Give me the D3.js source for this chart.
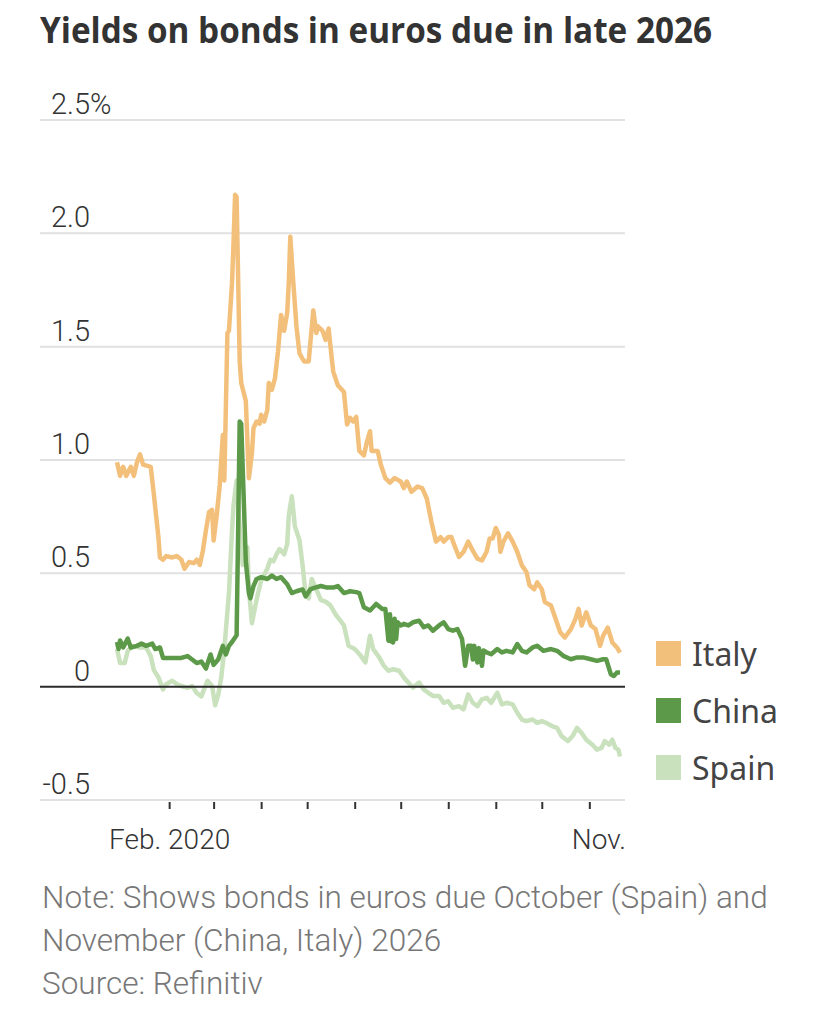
<!DOCTYPE html>
<html>
<head>
<meta charset="utf-8">
<script src="https://cdn.jsdelivr.net/npm/d3@7"></script>
<style>
  html, body { margin: 0; padding: 0; background: #ffffff; }
  svg { display: block; }
</style>
</head>
<body>
<svg id="chart" width="828" height="1020"></svg>
<script>
// ---------- DATA ----------
const title = "Yields on bonds in euros due in late 2026";
const noteLines = [
  "Note: Shows bonds in euros due October (Spain) and",
  "November (China, Italy) 2026",
  "Source: Refinitiv"
];
const seriesNames = ["Italy", "China", "Spain"];
const yTicks = [-0.5, 0, 0.5, 1.0, 1.5, 2.0, 2.5];
const yTickLabels = ["-0.5", "0", "0.5", "1.0", "1.5", "2.0", "2.5"];
const xTickMonths = ["2020-02-01","2020-03-01","2020-04-01","2020-05-01","2020-06-01","2020-07-01","2020-08-01","2020-09-01","2020-10-01","2020-11-01"];
const xTickLabels = ["Feb. 2020","","","","","","","","","Nov."];

const italy = [["2019-12-29",0.99],["2019-12-31",0.93],["2020-01-02",0.97],["2020-01-04",0.93],["2020-01-07",0.97],["2020-01-09",0.93],["2020-01-11",0.99],["2020-01-13",1.025],["2020-01-15",0.98],["2020-01-20",0.97],["2020-01-22",0.85],["2020-01-25",0.66],["2020-01-26",0.57],["2020-01-28",0.56],["2020-01-30",0.576],["2020-02-03",0.57],["2020-02-06",0.576],["2020-02-09",0.56],["2020-02-11",0.52],["2020-02-14",0.55],["2020-02-17",0.545],["2020-02-19",0.56],["2020-02-21",0.537],["2020-02-23",0.60],["2020-02-25",0.69],["2020-02-27",0.77],["2020-02-29",0.78],["2020-03-01",0.645],["2020-03-03",0.754],["2020-03-05",0.89],["2020-03-07",1.11],["2020-03-08",0.91],["2020-03-10",1.56],["2020-03-11",1.57],["2020-03-13",1.78],["2020-03-14",1.96],["2020-03-15",2.17],["2020-03-16",2.16],["2020-03-18",1.435],["2020-03-19",1.34],["2020-03-22",1.26],["2020-03-24",0.92],["2020-03-26",1.03],["2020-03-27",1.14],["2020-03-29",1.17],["2020-03-31",1.16],["2020-04-01",1.20],["2020-04-03",1.17],["2020-04-05",1.22],["2020-04-06",1.34],["2020-04-08",1.31],["2020-04-10",1.36],["2020-04-12",1.48],["2020-04-14",1.64],["2020-04-16",1.57],["2020-04-18",1.65],["2020-04-19",1.78],["2020-04-20",1.985],["2020-04-22",1.78],["2020-04-24",1.59],["2020-04-26",1.47],["2020-04-29",1.435],["2020-05-02",1.435],["2020-05-03",1.51],["2020-05-05",1.66],["2020-05-07",1.56],["2020-05-08",1.59],["2020-05-11",1.57],["2020-05-13",1.53],["2020-05-15",1.58],["2020-05-17",1.45],["2020-05-18",1.39],["2020-05-21",1.33],["2020-05-25",1.30],["2020-05-27",1.157],["2020-05-29",1.186],["2020-05-31",1.17],["2020-06-02",1.19],["2020-06-04",1.04],["2020-06-07",1.02],["2020-06-09",1.08],["2020-06-11",1.127],["2020-06-12",1.04],["2020-06-16",1.04],["2020-06-18",0.98],["2020-06-21",0.92],["2020-06-24",0.90],["2020-06-27",0.92],["2020-07-01",0.905],["2020-07-03",0.876],["2020-07-05",0.905],["2020-07-08",0.86],["2020-07-12",0.883],["2020-07-15",0.876],["2020-07-18",0.83],["2020-07-21",0.728],["2020-07-24",0.64],["2020-07-27",0.66],["2020-07-29",0.64],["2020-08-01",0.66],["2020-08-03",0.66],["2020-08-05",0.624],["2020-08-08",0.572],["2020-08-11",0.595],["2020-08-14",0.64],["2020-08-17",0.60],["2020-08-20",0.565],["2020-08-23",0.557],["2020-08-26",0.595],["2020-08-28",0.654],["2020-08-30",0.654],["2020-09-01",0.70],["2020-09-03",0.67],["2020-09-04",0.595],["2020-09-06",0.64],["2020-09-09",0.676],["2020-09-12",0.64],["2020-09-15",0.595],["2020-09-18",0.535],["2020-09-21",0.506],["2020-09-23",0.447],["2020-09-26",0.43],["2020-09-28",0.46],["2020-10-01",0.43],["2020-10-03",0.373],["2020-10-07",0.358],["2020-10-10",0.30],["2020-10-13",0.24],["2020-10-16",0.217],["2020-10-20",0.254],["2020-10-23",0.30],["2020-10-25",0.343],["2020-10-27",0.27],["2020-10-30",0.328],["2020-11-02",0.27],["2020-11-05",0.254],["2020-11-08",0.18],["2020-11-10",0.225],["2020-11-13",0.26],["2020-11-16",0.195],["2020-11-19",0.173],["2020-11-21",0.15]];

const china = [["2019-12-29",0.197],["2019-12-30",0.166],["2019-12-31",0.204],["2020-01-02",0.173],["2020-01-05",0.212],["2020-01-07",0.173],["2020-01-11",0.18],["2020-01-14",0.19],["2020-01-17",0.18],["2020-01-21",0.19],["2020-01-23",0.166],["2020-01-26",0.173],["2020-01-28",0.127],["2020-02-02",0.127],["2020-02-06",0.127],["2020-02-09",0.127],["2020-02-13",0.135],["2020-02-16",0.12],["2020-02-19",0.104],["2020-02-22",0.111],["2020-02-25",0.08],["2020-02-28",0.142],["2020-03-01",0.096],["2020-03-04",0.12],["2020-03-07",0.18],["2020-03-09",0.142],["2020-03-11",0.18],["2020-03-13",0.197],["2020-03-16",0.227],["2020-03-17",0.69],["2020-03-18",1.17],["2020-03-19",1.16],["2020-03-22",0.553],["2020-03-24",0.413],["2020-03-25",0.39],["2020-03-27",0.444],["2020-03-29",0.475],["2020-04-01",0.483],["2020-04-05",0.475],["2020-04-08",0.49],["2020-04-11",0.475],["2020-04-14",0.483],["2020-04-18",0.452],["2020-04-21",0.413],["2020-04-24",0.421],["2020-04-28",0.429],["2020-04-30",0.398],["2020-05-03",0.429],["2020-05-06",0.437],["2020-05-10",0.444],["2020-05-14",0.437],["2020-05-18",0.437],["2020-05-21",0.444],["2020-05-25",0.413],["2020-05-29",0.421],["2020-06-02",0.417],["2020-06-04",0.413],["2020-06-07",0.35],["2020-06-11",0.336],["2020-06-15",0.365],["2020-06-19",0.343],["2020-06-21",0.343],["2020-06-23",0.203],["2020-06-24",0.32],["2020-06-25",0.20],["2020-06-26",0.195],["2020-06-27",0.30],["2020-06-28",0.21],["2020-06-29",0.284],["2020-07-01",0.27],["2020-07-03",0.277],["2020-07-06",0.27],["2020-07-09",0.284],["2020-07-13",0.291],["2020-07-16",0.262],["2020-07-19",0.27],["2020-07-22",0.247],["2020-07-26",0.27],["2020-07-29",0.284],["2020-08-01",0.254],["2020-08-04",0.247],["2020-08-07",0.254],["2020-08-10",0.21],["2020-08-12",0.092],["2020-08-14",0.18],["2020-08-16",0.18],["2020-08-17",0.12],["2020-08-18",0.18],["2020-08-20",0.107],["2020-08-21",0.17],["2020-08-23",0.092],["2020-08-24",0.16],["2020-08-26",0.151],["2020-08-29",0.143],["2020-09-02",0.166],["2020-09-05",0.151],["2020-09-08",0.158],["2020-09-12",0.151],["2020-09-15",0.188],["2020-09-18",0.158],["2020-09-21",0.151],["2020-09-25",0.173],["2020-09-28",0.18],["2020-10-02",0.158],["2020-10-07",0.166],["2020-10-11",0.158],["2020-10-15",0.136],["2020-10-20",0.121],["2020-10-24",0.129],["2020-10-28",0.129],["2020-11-02",0.121],["2020-11-06",0.114],["2020-11-10",0.121],["2020-11-12",0.121],["2020-11-15",0.055],["2020-11-17",0.047],["2020-11-19",0.062],["2020-11-21",0.062]];

const spain = [["2019-12-29",0.166],["2019-12-31",0.104],["2020-01-03",0.104],["2020-01-05",0.158],["2020-01-08",0.18],["2020-01-13",0.173],["2020-01-17",0.173],["2020-01-20",0.135],["2020-01-22",0.073],["2020-01-25",0.042],["2020-01-28",-0.012],["2020-01-30",0.011],["2020-02-03",0.026],["2020-02-06",0.011],["2020-02-09",0.003],["2020-02-13",-0.005],["2020-02-16",0.003],["2020-02-19",-0.028],["2020-02-22",-0.043],["2020-02-26",0.026],["2020-02-29",0.003],["2020-03-02",-0.082],["2020-03-04",-0.036],["2020-03-06",0.042],["2020-03-08",0.166],["2020-03-11",0.413],["2020-03-13",0.69],["2020-03-14",0.80],["2020-03-16",0.91],["2020-03-18",0.707],["2020-03-20",0.537],["2020-03-23",0.615],["2020-03-24",0.43],["2020-03-26",0.28],["2020-03-28",0.35],["2020-03-30",0.413],["2020-04-01",0.467],["2020-04-05",0.52],["2020-04-07",0.56],["2020-04-09",0.553],["2020-04-11",0.584],["2020-04-13",0.607],["2020-04-16",0.584],["2020-04-18",0.63],["2020-04-19",0.754],["2020-04-21",0.84],["2020-04-23",0.707],["2020-04-26",0.646],["2020-04-28",0.537],["2020-04-30",0.405],["2020-05-02",0.39],["2020-05-04",0.475],["2020-05-06",0.444],["2020-05-10",0.382],["2020-05-13",0.375],["2020-05-16",0.36],["2020-05-20",0.314],["2020-05-25",0.27],["2020-05-28",0.18],["2020-06-01",0.166],["2020-06-05",0.136],["2020-06-08",0.107],["2020-06-11",0.225],["2020-06-13",0.166],["2020-06-17",0.129],["2020-06-20",0.092],["2020-06-23",0.07],["2020-06-26",0.077],["2020-06-30",0.07],["2020-07-03",0.04],["2020-07-06",0.018],["2020-07-09",-0.004],["2020-07-13",0.018],["2020-07-16",-0.012],["2020-07-19",-0.027],["2020-07-22",-0.041],["2020-07-26",-0.041],["2020-07-29",-0.071],["2020-08-01",-0.064],["2020-08-04",-0.093],["2020-08-08",-0.086],["2020-08-11",-0.1],["2020-08-14",-0.034],["2020-08-17",-0.071],["2020-08-20",-0.086],["2020-08-23",-0.056],["2020-08-26",-0.049],["2020-08-29",-0.071],["2020-09-02",-0.027],["2020-09-05",-0.078],["2020-09-08",-0.071],["2020-09-12",-0.078],["2020-09-15",-0.115],["2020-09-18",-0.145],["2020-09-21",-0.152],["2020-09-25",-0.145],["2020-09-28",-0.16],["2020-10-01",-0.152],["2020-10-04",-0.16],["2020-10-08",-0.175],["2020-10-11",-0.182],["2020-10-14",-0.219],["2020-10-18",-0.24],["2020-10-21",-0.219],["2020-10-24",-0.182],["2020-10-27",-0.204],["2020-10-30",-0.234],["2020-11-03",-0.256],["2020-11-06",-0.278],["2020-11-09",-0.27],["2020-11-11",-0.24],["2020-11-14",-0.256],["2020-11-16",-0.234],["2020-11-18",-0.27],["2020-11-20",-0.278],["2020-11-21",-0.308]];

// ---------- STYLE ----------
const colors = { Italy: "#f3c07b", China: "#5c9a49", Spain: "#c9e1bd" };
const axisFont = "'Roboto', sans-serif";

// ---------- DRAW ----------
const parse = d3.timeParse("%Y-%m-%d");
const svg = d3.select("#chart");

const plotLeft = 40, plotRight = 625;
const x = d3.scaleTime()
  .domain([parse("2019-12-29"), parse("2020-11-21")])
  .range([117, 620]);
const y = d3.scaleLinear().domain([-0.5, 2.5]).range([800, 120]);

// Title
svg.append("text")
  .attr("x", 40).attr("y", 43)
  .attr("font-family", "'Open Sans', 'Noto Sans', sans-serif")
  .attr("font-weight", 700)
  .attr("font-size", 35)
  .attr("fill", "#333")
  .attr("textLength", 672)
  .attr("lengthAdjust", "spacingAndGlyphs")
  .text(title);

// Gridlines
const grid = svg.append("g");
grid.selectAll("line")
  .data(yTicks.filter(v => v !== 0))
  .join("line")
  .attr("x1", plotLeft).attr("x2", plotRight)
  .attr("y1", d => y(d)).attr("y2", d => y(d))
  .attr("stroke", "#e1e1e1").attr("stroke-width", 2);

// Y labels
const yl = svg.append("g")
  .attr("font-family", axisFont)
  .attr("font-weight", 300)
  .attr("font-size", 29)
  .attr("fill", "#333");
yl.selectAll("text")
  .data(yTicks)
  .join("text")
  .attr("x", 90)
  .attr("y", d => y(d) - 6)
  .attr("text-anchor", "end")
  .text((d, i) => yTickLabels[i]);
yl.append("text")
  .attr("x", 90).attr("y", y(2.5) - 6)
  .attr("text-anchor", "start")
  .text("%");

// X axis (ticks at months)
const xAxis = d3.axisBottom(x)
  .tickValues(xTickMonths.map(parse))
  .tickSize(7)
  .tickPadding(20)
  .tickFormat((d, i) => xTickLabels[i]);
const gx = svg.append("g")
  .attr("transform", `translate(0, ${y(-0.5) + 2})`)
  .call(xAxis);
gx.select(".domain").remove();
gx.selectAll(".tick line").attr("stroke", "#333").attr("stroke-width", 2);
gx.selectAll(".tick text")
  .attr("font-family", axisFont)
  .attr("font-weight", 300)
  .attr("font-size", 28)
  .attr("fill", "#333");
gx.selectAll(".tick text").filter((d, i) => i === xTickLabels.length - 1)
  .attr("dx", 9);

// Lines
const line = d3.line()
  .x(d => x(parse(d[0])))
  .y(d => y(d[1]));
const seriesData = { Italy: italy, China: china, Spain: spain };
const drawOrder = ["Spain", "Italy", "China"];
svg.append("g").selectAll("path")
  .data(drawOrder)
  .join("path")
  .attr("d", k => line(seriesData[k]))
  .attr("fill", "none")
  .attr("stroke", k => colors[k])
  .attr("stroke-width", 4.5)
  .attr("stroke-linejoin", "round")
  .attr("stroke-linecap", "butt");

// Zero line
svg.append("line")
  .attr("x1", plotLeft).attr("x2", plotRight)
  .attr("y1", y(0)).attr("y2", y(0))
  .attr("stroke", "#2b2b2b").attr("stroke-width", 2);

// Legend
const lg = svg.append("g").attr("transform", "translate(656, 641)");
const li = lg.selectAll("g").data(seriesNames).join("g")
  .attr("transform", (d, i) => `translate(0, ${i * 57})`);
li.append("rect").attr("width", 25).attr("height", 25).attr("fill", d => colors[d]);
li.append("text")
  .attr("x", 36).attr("y", 25)
  .attr("font-family", "'Noto Sans', 'Open Sans', sans-serif")
  .attr("font-size", 32)
  .attr("fill", "#444")
  .text(d => d);

// Note
svg.append("g")
  .attr("font-family", "'Roboto', sans-serif")
  .attr("font-weight", 300)
  .attr("font-size", 31.5)
  .attr("fill", "#777")
  .selectAll("text")
  .data(noteLines)
  .join("text")
  .attr("x", 42)
  .attr("y", (d, i) => 908 + i * 43)
  .text(d => d);
</script>
</body>
</html>
